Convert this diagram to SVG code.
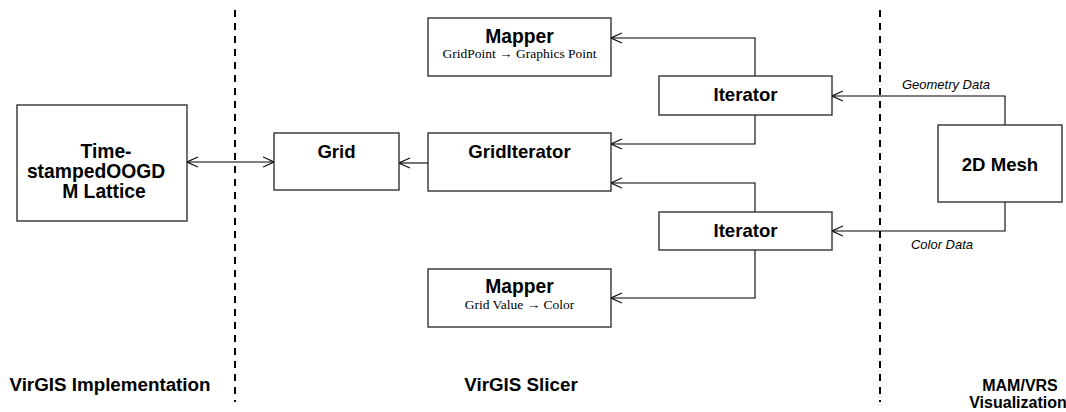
<svg xmlns="http://www.w3.org/2000/svg" width="1066" height="412" viewBox="0 0 1066 412">
  <style>
    .box { fill: #ffffff; stroke: #333333; stroke-width: 1.4; }
    .title { font-family: "Liberation Sans", Arial, sans-serif; font-weight: bold; font-size: 18.6px; fill: #000; text-anchor: middle; }
    .big { font-size: 19.3px; }
    .sub { font-family: "Liberation Serif", "DejaVu Serif", serif; font-size: 13.5px; fill: #000; text-anchor: middle; }
    .edge { fill: none; stroke: #000; stroke-width: 1.1; }
    .lab { font-family: "Liberation Sans", Arial, sans-serif; font-style: italic; font-size: 13px; fill: #000; text-anchor: middle; }
    .sep { stroke: #000; stroke-width: 2; stroke-dasharray: 7 6; fill: none; }
    .zone { font-family: "Liberation Sans", Arial, sans-serif; font-weight: bold; font-size: 18.8px; fill: #000; text-anchor: middle; }
    .zone.small { font-size: 16px; }
  </style>
  <defs>
    <marker id="open" viewBox="0 0 12 12" refX="11" refY="6" markerWidth="12" markerHeight="12" markerUnits="userSpaceOnUse" orient="auto-start-reverse">
      <path d="M0,1 L11,6 L0,11" fill="none" stroke="#000" stroke-width="1.1"/>
    </marker>
  </defs>

  <!-- layer separators -->
  <g id="separators">
    <line class="sep" x1="235" y1="10" x2="235" y2="402"/>
    <line class="sep" x1="880" y1="10" x2="880" y2="402"/>
  </g>

  <!-- connectors -->
  <g id="connectors">
    <line class="edge" x1="187" y1="162" x2="274" y2="162" marker-start="url(#open)" marker-end="url(#open)"/>
    <line class="edge" x1="428" y1="163" x2="399" y2="163" marker-end="url(#open)"/>
    <polyline class="edge" points="755,76 755,38 611,38" marker-end="url(#open)"/>
    <polyline class="edge" points="755,115 755,144 611,144" marker-end="url(#open)"/>
    <polyline class="edge" points="755,212 755,183 611,183" marker-end="url(#open)"/>
    <polyline class="edge" points="755,250 755,298 611,298" marker-end="url(#open)"/>
    <polyline class="edge" points="1005,125 1005,96 832,96" marker-end="url(#open)"/>
    <polyline class="edge" points="1005,202 1005,231 832,231" marker-end="url(#open)"/>
    <text class="lab" x="946" y="89">Geometry Data</text>
    <text class="lab" x="942" y="249">Color Data</text>
  </g>

  <g id="lattice">
    <rect class="box" x="17" y="105" width="170" height="116"/>
    <text class="title big" x="106" y="158">Time-</text>
    <text class="title big" x="96" y="178">stampedOOGD</text>
    <text class="title big" x="104" y="198">M Lattice</text>
  </g>

  <g id="grid">
    <rect class="box" x="274" y="133" width="125" height="57"/>
    <text class="title" x="336.5" y="158">Grid</text>
  </g>

  <g id="griditerator">
    <rect class="box" x="428" y="133" width="183" height="58"/>
    <text class="title" x="519.5" y="158">GridIterator</text>
  </g>

  <g id="mapper-top">
    <rect class="box" x="428" y="18" width="183" height="58"/>
    <text class="title big" x="519.5" y="43">Mapper</text>
    <text class="sub" x="519.5" y="58">GridPoint <tspan font-weight="bold">→</tspan> Graphics Point</text>
  </g>

  <g id="iterator-top">
    <rect class="box" x="659" y="76" width="173" height="39"/>
    <text class="title" x="745.5" y="101">Iterator</text>
  </g>

  <g id="iterator-bottom">
    <rect class="box" x="659" y="212" width="173" height="38"/>
    <text class="title" x="745.5" y="237">Iterator</text>
  </g>

  <g id="mapper-bottom">
    <rect class="box" x="428" y="269" width="183" height="58"/>
    <text class="title big" x="519.5" y="293">Mapper</text>
    <text class="sub" x="519.5" y="309">Grid Value <tspan font-weight="bold">→</tspan> Color</text>
  </g>

  <g id="mesh">
    <rect class="box" x="938" y="125" width="124" height="77"/>
    <text class="title" x="1000" y="171">2D Mesh</text>
  </g>

  <!-- layer names -->
  <g id="zones">
    <text class="zone" x="110" y="391">VirGIS Implementation</text>
    <text class="zone" x="521" y="391">VirGIS Slicer</text>
    <text class="zone small" x="1020" y="391">MAM/VRS</text>
    <text class="zone small" x="1018" y="408">Visualization</text>
  </g>
</svg>
